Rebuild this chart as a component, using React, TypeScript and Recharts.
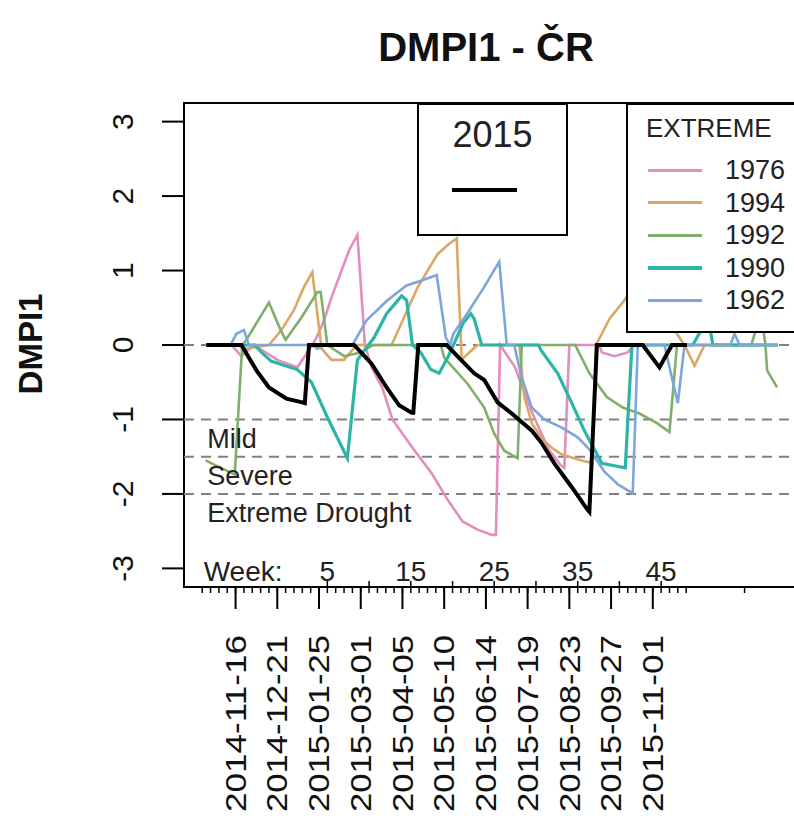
import React from 'react';
import {
  ComposedChart,
  Line,
  XAxis,
  YAxis,
  ReferenceLine,
  ReferenceArea,
  ReferenceDot,
  Legend,
} from 'recharts';

const FONT = "'Liberation Sans', Arial, Helvetica, sans-serif";

// x = week number of 2015 (negative weeks = end of 2014), y = DMPI1

const weeks2015 = [-9.5, -5.3, -3.5, -2.0, 0.1, 2.0, 2.3, 2.8, 8.2, 10.3, 12.1, 13.6, 15.1, 15.3, 15.9, 19.3, 21.1, 22.6, 23.8, 25.4, 27.1, 29.5, 30.7, 32.2, 34.3, 36.1, 36.4, 37.3, 42.8, 44.8, 46.3, 48.1];
const dmpi2015 = [0, 0, -0.34, -0.57, -0.72, -0.77, -0.78, 0, 0, -0.25, -0.57, -0.81, -0.91, -0.91, 0, 0, -0.21, -0.38, -0.47, -0.77, -0.92, -1.15, -1.32, -1.59, -1.91, -2.2, -2.24, 0, 0, -0.3, 0, 0];

const weeks1976 = [-9.5, -6.5, -5.3, -3.8, -1.0, 1.4, 3.2, 3.7, 4.6, 5.5, 6.7, 7.6, 8.6, 9.5, 10.3, 11.6, 12.8, 15.2, 17.6, 19.3, 21.2, 23.0, 24.7, 25.2, 25.7, 27.5, 29.5, 31.5, 33.0, 33.4, 34.0, 37.6, 37.9, 39.4, 41.0, 41.8, 59.0];
const dmpi1976 = [0, 0, -0.15, 0, -0.2, -0.3, 0, 0.1, 0.33, 0.64, 1.0, 1.27, 1.48, 0, -0.3, -0.58, -1.0, -1.38, -1.74, -2.06, -2.37, -2.48, -2.55, -2.55, 0, -0.3, -0.9, -1.4, -1.62, -1.65, 0, 0, -0.1, -0.15, -0.1, 0, 0];

const weeks1994 = [-9.5, -5.9, -4.7, -2.0, -0.5, 1.0, 2.2, 3.2, 4.3, 5.5, 7.0, 8.5, 12.7, 15.8, 18.2, 19.6, 20.5, 21.1, 22.0, 23.0, 28.0, 28.6, 29.5, 30.7, 31.9, 33.1, 35.8, 36.7, 37.2, 38.8, 40.6, 42.4, 44.8, 47.2, 47.8, 49.0, 50.2, 59.0];
const dmpi1994 = [0, 0, -0.05, 0, 0.2, 0.47, 0.78, 0.98, -0.05, -0.2, -0.2, 0, 0, 0.77, 1.22, 1.36, 1.43, -0.2, -0.1, 0, 0, -0.7, -1.05, -1.26, -1.38, -1.47, -1.56, -1.58, 0, 0.35, 0.6, 0.9, 0.5, 0.1, 0, -0.28, 0, 0];

const weeks1992 = [-9.6, -6.1, -5.2, -4.7, -2.0, -0.6, 0.0, 1.9, 3.8, 4.2, 5.0, 7.0, 9.0, 10.5, 18.6, 19.0, 21.8, 23.8, 25.0, 26.2, 27.8, 28.3, 34.7, 36.4, 38.5, 40.4, 42.4, 44.5, 46.0, 46.9, 55.8, 56.6, 57.2, 57.5, 57.7, 58.9];
const dmpi1992 = [-1.55, -1.74, 0, 0.07, 0.57, 0.2, 0.07, 0.37, 0.71, 0.71, 0, -0.15, -0.1, 0, 0, -0.17, -0.52, -0.84, -1.19, -1.42, -1.52, 0, 0, -0.38, -0.7, -0.84, -0.92, -1.05, -1.17, 0, 0, 0.29, 0.25, 0, -0.34, -0.57];

const weeks1990 = [-9.5, -3.7, -2.9, -1.7, 1.4, 3.1, 5.0, 7.4, 8.6, 10.6, 12.1, 13.9, 14.5, 15.2, 16.2, 17.4, 18.4, 19.5, 21.3, 22.2, 22.6, 23.5, 30.3, 30.6, 32.6, 34.3, 35.8, 37.9, 40.7, 41.5, 48.8, 49.8, 50.6, 51.2, 59.0];
const dmpi1990 = [0, 0, -0.1, -0.22, -0.33, -0.5, -0.97, -1.52, -0.2, 0.1, 0.42, 0.66, 0.6, 0, -0.1, -0.33, -0.38, -0.15, 0.3, 0.42, 0.35, 0, 0, -0.07, -0.38, -0.78, -1.15, -1.59, -1.65, 0, 0, 0.2, 0.4, 0, 0];

const weeks1962 = [-9.5, -6.6, -5.9, -5.0, -4.4, 3.2, 3.8, 4.7, 8.0, 9.7, 12.2, 14.5, 16.4, 18.1, 19.2, 19.7, 20.1, 21.8, 23.8, 25.6, 26.5, 27.4, 28.2, 29.5, 31.0, 33.1, 35.0, 36.4, 38.2, 39.9, 41.6, 42.2, 45.4, 46.0, 47.0, 47.8, 53.3, 53.8, 54.4, 59.0];
const dmpi1962 = [0, 0, 0.15, 0.2, 0, 0, -0.05, 0, 0, 0.33, 0.6, 0.8, 0.87, 0.94, 0.1, 0, 0.15, 0.43, 0.78, 1.12, 0, 0, -0.4, -0.84, -1.0, -1.11, -1.24, -1.4, -1.7, -1.88, -1.99, 0, 0, -0.3, -0.78, 0, 0, 0.15, 0, 0];

// axes, thresholds, labels
const xDomain = [-12.18, 63.08];
const yDomain = [-3.25, 3.25];
const yTicks = [-3, -2, -1, 0, 1, 2, 3];
const thresholdLines = [0, -1, -1.5, -2];
const droughtNames = ['Mild', 'Severe', 'Extreme Drought'];
const droughtLevels = [-1.25, -1.75, -2.25];
const weekNumbers = [5, 15, 25, 35, 45];
const weekMarks = [5, 10, 15, 20, 25, 30, 35, 40, 45];
const dateWeeks = [-6, -1, 4, 9, 14, 19, 24, 29, 34, 39, 44];
const dateLabels = ['2014-11-16', '2014-12-21', '2015-01-25', '2015-03-01', '2015-04-05', '2015-05-10', '2015-06-14', '2015-07-19', '2015-08-23', '2015-09-27', '2015-11-01'];
const weekTicks = [...Array.from({ length: 59 }, (_, i) => i - 10), 55];

// legend order of the extreme years
const extremeYears = ['1976', '1994', '1992', '1990', '1962'];

const series = [
  { name: '1976', color: '#e48dbf', width: 2.6, weeks: weeks1976, values: dmpi1976 },
  { name: '1994', color: '#d9a766', width: 2.6, weeks: weeks1994, values: dmpi1994 },
  { name: '1992', color: '#7fb06a', width: 2.6, weeks: weeks1992, values: dmpi1992 },
  { name: '1990', color: '#2bb5a8', width: 3.2, weeks: weeks1990, values: dmpi1990 },
  { name: '1962', color: '#7ea6da', width: 2.6, weeks: weeks1962, values: dmpi1962 },
  { name: '2015', color: '#000000', width: 4, weeks: weeks2015, values: dmpi2015 },
];

const toPoints = (weeks: number[], values: number[]) =>
  weeks.map((w, i) => ({ w, v: values[i] }));

function WeekTick(props: any) {
  const { x, y, payload } = props;
  const w = payload.value;
  const di = dateWeeks.indexOf(w);
  const mark = weekMarks.includes(w);
  return (
    <g>
      <line x1={x} x2={x} y1={mark ? y - 6 : y} y2={y + 6} stroke="#000" strokeWidth={1.5} />
      {di >= 0 && <line x1={x} x2={x} y1={y} y2={y + 22} stroke="#000" strokeWidth={2} />}
      {di >= 0 && (
        <text
          transform={`translate(${x},${y + 48}) rotate(-90)`}
          textAnchor="end"
          dy="0.35em"
          fontSize={29}
          textLength={177}
          lengthAdjust="spacingAndGlyphs"
          fontFamily={FONT}
          fill="#111"
        >
          {dateLabels[di]}
        </text>
      )}
    </g>
  );
}

function ValueTick(props: any) {
  const { x, y, payload } = props;
  return (
    <text
      transform={`translate(${x},${y}) rotate(-90)`}
      textAnchor="middle"
      dy="0.35em"
      fontSize={30}
      fontFamily={FONT}
      fill="#111"
    >
      {payload.value}
    </text>
  );
}

function LegendBoxes(props: any) {
  const items = props.payload || [];
  const current = items.find((p: any) => p.value === '2015');
  const extremes = extremeYears
    .map((y) => items.find((p: any) => p.value === y))
    .filter(Boolean);
  return (
    <div style={{ position: 'relative', width: 830, height: 818, fontFamily: FONT, color: '#222' }}>
      <div
        style={{
          position: 'absolute', left: 417, top: 103, width: 151, height: 133,
          border: '2px solid #000', background: '#fff', boxSizing: 'border-box',
        }}
      >
        <div style={{ position: 'absolute', left: 0, right: 0, top: 12, textAlign: 'center', fontSize: 36, lineHeight: '36px' }}>
          {current ? current.value : ''}
        </div>
        <div style={{ position: 'absolute', left: 33, width: 65, top: 83, height: 4, background: current ? current.color : '#000' }} />
      </div>
      <div
        style={{
          position: 'absolute', left: 626, top: 103, width: 200, height: 230,
          border: '2px solid #000', background: '#fff', boxSizing: 'border-box',
        }}
      >
        <div style={{ position: 'absolute', left: 18, top: 10, fontSize: 26, lineHeight: '26px' }}>EXTREME</div>
        {extremes.map((p: any, i: number) => (
          <div key={p.value} style={{ position: 'absolute', left: 0, top: 170 + 32.5 * i - 105 - 14, width: 200, height: 28 }}>
            <div style={{ position: 'absolute', left: 20, width: 54, top: p.value === '1990' ? 12 : 12.5, height: p.value === '1990' ? 4 : 3, background: p.color }} />
            <div style={{ position: 'absolute', left: 97, top: 1, fontSize: 27, lineHeight: '27px' }}>{p.value}</div>
          </div>
        ))}
      </div>
    </div>
  );
}

export default function App() {
  return (
    <div
      style={{
        position: 'absolute', left: 0, top: 0, width: 794, height: 818,
        overflow: 'hidden', background: '#fff', fontFamily: FONT,
      }}
    >
      <ComposedChart width={830} height={818} margin={{ top: 103, right: 18, bottom: 0, left: 0 }}>
        <XAxis
          type="number"
          dataKey="w"
          domain={xDomain}
          allowDataOverflow
          ticks={weekTicks}
          interval={0}
          tick={(p: any) => <WeekTick {...p} />}
          tickLine={false}
          axisLine={false}
          tickSize={0}
          tickMargin={0}
          height={231}
        />
        <YAxis
          type="number"
          domain={yDomain}
          allowDataOverflow
          ticks={yTicks}
          interval={0}
          width={184}
          tickSize={22}
          tickMargin={40}
          tickLine={{ stroke: '#000', strokeWidth: 2 }}
          axisLine={false}
          tick={(p: any) => <ValueTick {...p} />}
        />
        <ReferenceArea
          x1={xDomain[0]}
          x2={xDomain[1]}
          y1={yDomain[0]}
          y2={yDomain[1]}
          fill="none"
          fillOpacity={0}
          stroke="#000"
          strokeWidth={2}
        />
        {thresholdLines.map((v) => (
          <ReferenceLine key={v} y={v} stroke="#808080" strokeWidth={2} strokeDasharray="10 7" />
        ))}
        {series.map((s) => (
          <Line
            key={s.name}
            data={toPoints(s.weeks, s.values)}
            dataKey="v"
            name={s.name}
            type="linear"
            stroke={s.color}
            strokeWidth={s.width}
            dot={false}
            activeDot={false}
            isAnimationActive={false}
          />
        ))}
        {droughtNames.map((n, i) => (
          <ReferenceDot
            key={n}
            x={-10}
            y={droughtLevels[i]}
            r={0}
            fill="none"
            stroke="none"
            label={{ value: n, position: 'right', offset: 5, fontSize: 27, fill: '#222', fontFamily: FONT }}
          />
        ))}
        <ReferenceDot
          x={-5.1}
          y={-3.03}
          r={0}
          fill="none"
          stroke="none"
          label={{ value: 'Week:', position: 'center', fontSize: 28, fill: '#222', fontFamily: FONT }}
        />
        {weekNumbers.map((w) => (
          <ReferenceDot
            key={w}
            x={w}
            y={-3.03}
            r={0}
            fill="none"
            stroke="none"
            label={{ value: String(w), position: 'center', fontSize: 28, fill: '#222', fontFamily: FONT }}
          />
        ))}
        <Legend
          layout="vertical"
          align="center"
          verticalAlign="middle"
          wrapperStyle={{ left: 0, top: 0, width: 830, height: 818, pointerEvents: 'none' }}
          content={(p: any) => <LegendBoxes {...p} />}
        />
      </ComposedChart>
      <svg width={794} height={818} style={{ position: 'absolute', left: 0, top: 0, pointerEvents: 'none' }}>
        <text x={486} y={61} textAnchor="middle" fontSize={40} fontWeight="bold" fontFamily={FONT} fill="#111">
          DMPI1 - ČR
        </text>
        <text transform="translate(30,344) rotate(-90)" textAnchor="middle" dy="0.35em" fontSize={33} fontWeight="bold" fontFamily={FONT} fill="#111">
          DMPI1
        </text>
      </svg>
    </div>
  );
}
